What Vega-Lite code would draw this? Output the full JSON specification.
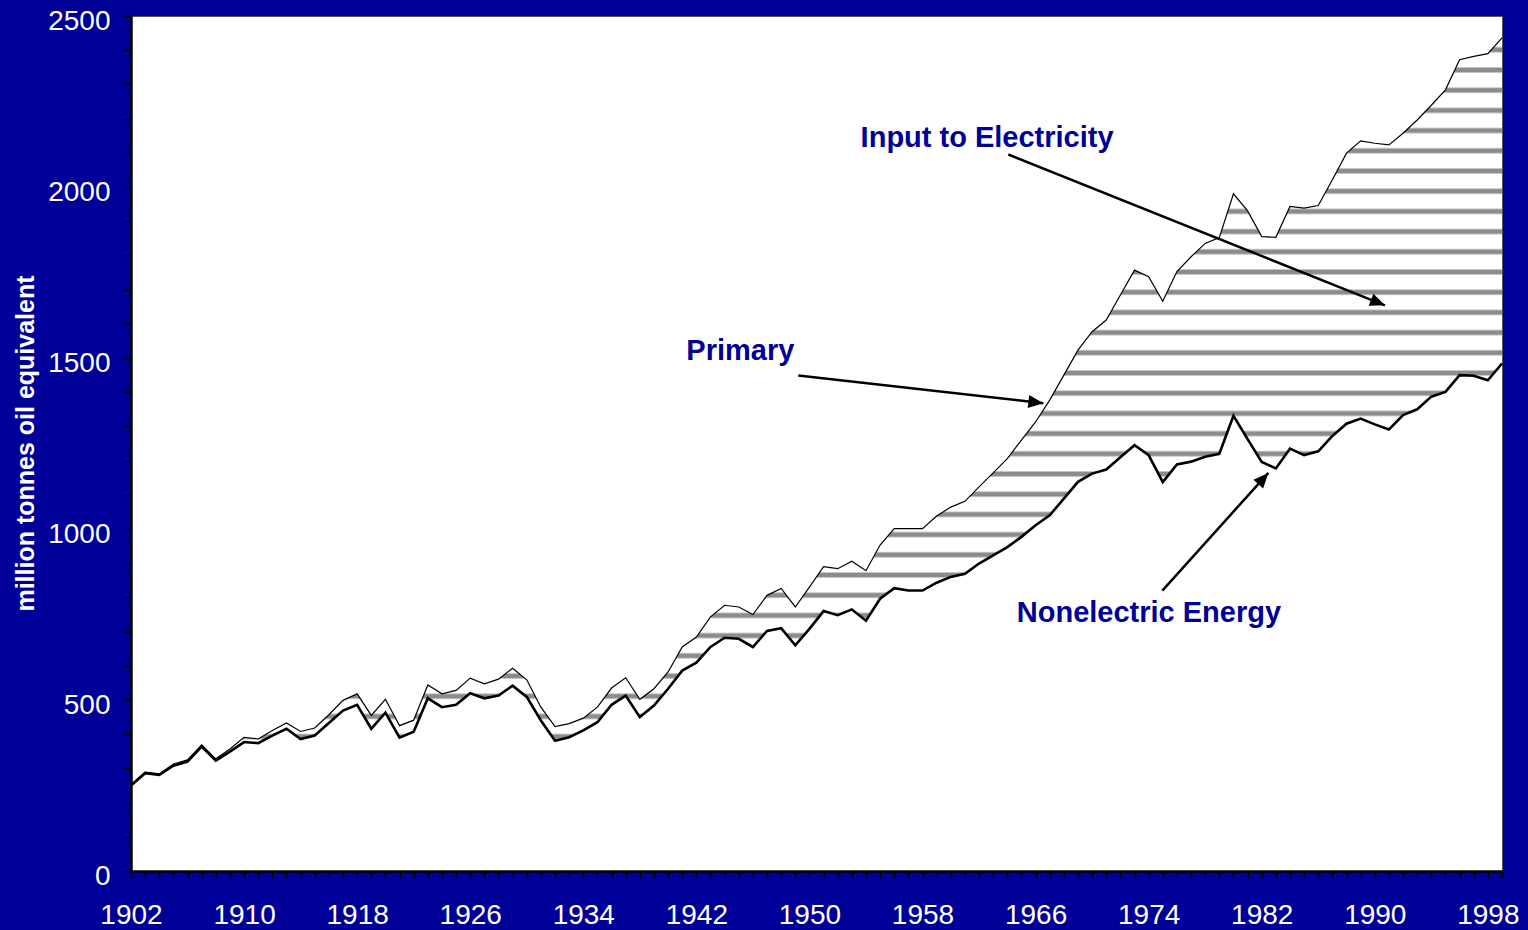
{
  "$schema": "https://vega.github.io/schema/vega-lite/v6.json",
  "width": 1371,
  "height": 855,
  "autosize": "none",
  "padding": {"left": 131, "top": 16, "right": 26, "bottom": 59},
  "background": "#000099",
  "config": {
    "view": {"fill": "white", "stroke": "#555555", "strokeWidth": 1},
    "font": "Liberation Sans"
  },
  "datasets": {
    "series": [
      {"year": 1902, "primary": 252, "nonelectric": 250},
      {"year": 1903, "primary": 289, "nonelectric": 286},
      {"year": 1904, "primary": 284, "nonelectric": 281},
      {"year": 1905, "primary": 313, "nonelectric": 308},
      {"year": 1906, "primary": 325, "nonelectric": 320},
      {"year": 1907, "primary": 369, "nonelectric": 364},
      {"year": 1908, "primary": 328, "nonelectric": 323},
      {"year": 1909, "primary": 357, "nonelectric": 349},
      {"year": 1910, "primary": 391, "nonelectric": 377},
      {"year": 1911, "primary": 386, "nonelectric": 374},
      {"year": 1912, "primary": 411, "nonelectric": 396},
      {"year": 1913, "primary": 433, "nonelectric": 416},
      {"year": 1914, "primary": 408, "nonelectric": 386},
      {"year": 1915, "primary": 418, "nonelectric": 396},
      {"year": 1916, "primary": 457, "nonelectric": 433},
      {"year": 1917, "primary": 499, "nonelectric": 469},
      {"year": 1918, "primary": 518, "nonelectric": 486},
      {"year": 1919, "primary": 455, "nonelectric": 416},
      {"year": 1920, "primary": 502, "nonelectric": 463},
      {"year": 1921, "primary": 425, "nonelectric": 390},
      {"year": 1922, "primary": 441, "nonelectric": 407},
      {"year": 1923, "primary": 544, "nonelectric": 505},
      {"year": 1924, "primary": 518, "nonelectric": 479},
      {"year": 1925, "primary": 528, "nonelectric": 486},
      {"year": 1926, "primary": 564, "nonelectric": 520},
      {"year": 1927, "primary": 547, "nonelectric": 505},
      {"year": 1928, "primary": 561, "nonelectric": 513},
      {"year": 1929, "primary": 593, "nonelectric": 542},
      {"year": 1930, "primary": 559, "nonelectric": 509},
      {"year": 1931, "primary": 479, "nonelectric": 440},
      {"year": 1932, "primary": 422, "nonelectric": 381},
      {"year": 1933, "primary": 431, "nonelectric": 391},
      {"year": 1934, "primary": 447, "nonelectric": 411},
      {"year": 1935, "primary": 479, "nonelectric": 435},
      {"year": 1936, "primary": 535, "nonelectric": 486},
      {"year": 1937, "primary": 565, "nonelectric": 513},
      {"year": 1938, "primary": 502, "nonelectric": 450},
      {"year": 1939, "primary": 533, "nonelectric": 484},
      {"year": 1940, "primary": 582, "nonelectric": 533},
      {"year": 1941, "primary": 655, "nonelectric": 586},
      {"year": 1942, "primary": 684, "nonelectric": 609},
      {"year": 1943, "primary": 743, "nonelectric": 655},
      {"year": 1944, "primary": 777, "nonelectric": 682},
      {"year": 1945, "primary": 772, "nonelectric": 679},
      {"year": 1946, "primary": 750, "nonelectric": 655},
      {"year": 1947, "primary": 806, "nonelectric": 702},
      {"year": 1948, "primary": 826, "nonelectric": 710},
      {"year": 1949, "primary": 772, "nonelectric": 660},
      {"year": 1950, "primary": 830, "nonelectric": 708},
      {"year": 1951, "primary": 890, "nonelectric": 760},
      {"year": 1952, "primary": 884, "nonelectric": 748},
      {"year": 1953, "primary": 906, "nonelectric": 765},
      {"year": 1954, "primary": 878, "nonelectric": 732},
      {"year": 1955, "primary": 953, "nonelectric": 796},
      {"year": 1956, "primary": 1001, "nonelectric": 827},
      {"year": 1957, "primary": 1001, "nonelectric": 820},
      {"year": 1958, "primary": 1001, "nonelectric": 820},
      {"year": 1959, "primary": 1038, "nonelectric": 843},
      {"year": 1960, "primary": 1064, "nonelectric": 860},
      {"year": 1961, "primary": 1081, "nonelectric": 869},
      {"year": 1962, "primary": 1123, "nonelectric": 899},
      {"year": 1963, "primary": 1164, "nonelectric": 923},
      {"year": 1964, "primary": 1206, "nonelectric": 947},
      {"year": 1965, "primary": 1260, "nonelectric": 977},
      {"year": 1966, "primary": 1313, "nonelectric": 1011},
      {"year": 1967, "primary": 1377, "nonelectric": 1040},
      {"year": 1968, "primary": 1450, "nonelectric": 1089},
      {"year": 1969, "primary": 1523, "nonelectric": 1138},
      {"year": 1970, "primary": 1577, "nonelectric": 1162},
      {"year": 1971, "primary": 1611, "nonelectric": 1174},
      {"year": 1972, "primary": 1684, "nonelectric": 1210},
      {"year": 1973, "primary": 1757, "nonelectric": 1245},
      {"year": 1974, "primary": 1738, "nonelectric": 1216},
      {"year": 1975, "primary": 1666, "nonelectric": 1137},
      {"year": 1976, "primary": 1753, "nonelectric": 1189},
      {"year": 1977, "primary": 1796, "nonelectric": 1197},
      {"year": 1978, "primary": 1835, "nonelectric": 1211},
      {"year": 1979, "primary": 1852, "nonelectric": 1220},
      {"year": 1980, "primary": 1980, "nonelectric": 1331},
      {"year": 1981, "primary": 1930, "nonelectric": 1263},
      {"year": 1982, "primary": 1855, "nonelectric": 1196},
      {"year": 1983, "primary": 1853, "nonelectric": 1177},
      {"year": 1984, "primary": 1943, "nonelectric": 1235},
      {"year": 1985, "primary": 1938, "nonelectric": 1216},
      {"year": 1986, "primary": 1946, "nonelectric": 1227},
      {"year": 1987, "primary": 2021, "nonelectric": 1272},
      {"year": 1988, "primary": 2099, "nonelectric": 1308},
      {"year": 1989, "primary": 2135, "nonelectric": 1323},
      {"year": 1990, "primary": 2128, "nonelectric": 1306},
      {"year": 1991, "primary": 2123, "nonelectric": 1291},
      {"year": 1992, "primary": 2157, "nonelectric": 1333},
      {"year": 1993, "primary": 2196, "nonelectric": 1350},
      {"year": 1994, "primary": 2239, "nonelectric": 1387},
      {"year": 1995, "primary": 2284, "nonelectric": 1401},
      {"year": 1996, "primary": 2372, "nonelectric": 1450},
      {"year": 1997, "primary": 2382, "nonelectric": 1448},
      {"year": 1998, "primary": 2390, "nonelectric": 1435},
      {"year": 1999, "primary": 2436, "nonelectric": 1484}
    ],
    "labels": [
      {"label": "Input to Electricity", "year": 1962.57, "v": 2117},
      {"label": "Primary", "year": 1945.11, "v": 1493},
      {"label": "Nonelectric Energy", "year": 1974.02, "v": 729}
    ],
    "arrows": [
      {"id": 1, "year": 1964.07, "v": 2095, "year2": 1990.72, "v2": 1654},
      {"id": 2, "year": 1949.21, "v": 1449, "year2": 1966.55, "v2": 1368},
      {"id": 3, "year": 1974.97, "v": 820, "year2": 1982.47, "v2": 1164}
    ]
  },
  "encoding": {
    "x": {
      "field": "year",
      "type": "quantitative",
      "title": null,
      "scale": {"domain": [1902, 1999], "nice": false, "zero": false},
      "axis": {
        "values": [1902,1903,1904,1905,1906,1907,1908,1909,1910,1911,1912,1913,1914,1915,1916,1917,1918,1919,1920,1921,1922,1923,1924,1925,1926,1927,1928,1929,1930,1931,1932,1933,1934,1935,1936,1937,1938,1939,1940,1941,1942,1943,1944,1945,1946,1947,1948,1949,1950,1951,1952,1953,1954,1955,1956,1957,1958,1959,1960,1961,1962,1963,1964,1965,1966,1967,1968,1969,1970,1971,1972,1973,1974,1975,1976,1977,1978,1979,1980,1981,1982,1983,1984,1985,1986,1987,1988,1989,1990,1991,1992,1993,1994,1995,1996,1997,1998,1999],
        "format": "d",
        "labelExpr": "(datum.value - 1902) % 8 == 0 ? datum.label : ''",
        "labelOverlap": false,
        "labelFlush": false,
        "labelFont": "Liberation Sans",
        "labelFontSize": 28,
        "labelColor": "white",
        "labelPadding": 23,
        "tickSize": 7,
        "tickColor": "black",
        "tickWidth": 1.5,
        "domainColor": "black",
        "domainWidth": 2.5,
        "grid": false
      }
    },
    "y": {
      "field": "primary",
      "type": "quantitative",
      "title": "million tonnes oil equivalent",
      "scale": {"domain": [0, 2500], "nice": false},
      "axis": {
        "values": [0,100,200,300,400,500,600,700,800,900,1000,1100,1200,1300,1400,1500,1600,1700,1800,1900,2000,2100,2200,2300,2400,2500],
        "format": "d",
        "labelExpr": "datum.value % 500 == 0 ? datum.label : ''",
        "labelOverlap": false,
        "labelFont": "Liberation Sans",
        "labelFontSize": 28,
        "labelColor": "white",
        "labelPadding": 14,
        "labelOffset": 5,
        "tickSize": 7,
        "tickColor": "black",
        "tickWidth": 1.5,
        "domainColor": "black",
        "domainWidth": 2.5,
        "grid": false,
        "titleFont": "Liberation Sans",
        "titleFontSize": 25,
        "titleFontWeight": "bold",
        "titleColor": "white",
        "titleAngle": 270,
        "titleAlign": "center",
        "titleBaseline": "alphabetic",
        "titleX": -98,
        "titleY": 427
      }
    }
  },
  "layer": [
    {
      "data": {"name": "series"},
      "mark": {
        "type": "area",
        "opacity": 1,
        "fill": {
          "gradient": "linear", "x1": 0, "y1": 0, "x2": 0, "y2": 1,
          "stops": [
            {"offset": 0, "color": "#ffffff"},
            {"offset": 0.0112, "color": "#ffffff"}, {"offset": 0.0139, "color": "#8c8c8c"}, {"offset": 0.0179, "color": "#8c8c8c"}, {"offset": 0.0206, "color": "#ffffff"},
            {"offset": 0.0383, "color": "#ffffff"}, {"offset": 0.0409, "color": "#8c8c8c"}, {"offset": 0.0450, "color": "#8c8c8c"}, {"offset": 0.0476, "color": "#ffffff"},
            {"offset": 0.0653, "color": "#ffffff"}, {"offset": 0.0680, "color": "#8c8c8c"}, {"offset": 0.0720, "color": "#8c8c8c"}, {"offset": 0.0746, "color": "#ffffff"},
            {"offset": 0.0923, "color": "#ffffff"}, {"offset": 0.0950, "color": "#8c8c8c"}, {"offset": 0.0990, "color": "#8c8c8c"}, {"offset": 0.1017, "color": "#ffffff"},
            {"offset": 0.1193, "color": "#ffffff"}, {"offset": 0.1220, "color": "#8c8c8c"}, {"offset": 0.1260, "color": "#8c8c8c"}, {"offset": 0.1287, "color": "#ffffff"},
            {"offset": 0.1463, "color": "#ffffff"}, {"offset": 0.1490, "color": "#8c8c8c"}, {"offset": 0.1530, "color": "#8c8c8c"}, {"offset": 0.1557, "color": "#ffffff"},
            {"offset": 0.1734, "color": "#ffffff"}, {"offset": 0.1760, "color": "#8c8c8c"}, {"offset": 0.1800, "color": "#8c8c8c"}, {"offset": 0.1827, "color": "#ffffff"},
            {"offset": 0.2004, "color": "#ffffff"}, {"offset": 0.2030, "color": "#8c8c8c"}, {"offset": 0.2071, "color": "#8c8c8c"}, {"offset": 0.2097, "color": "#ffffff"},
            {"offset": 0.2274, "color": "#ffffff"}, {"offset": 0.2301, "color": "#8c8c8c"}, {"offset": 0.2341, "color": "#8c8c8c"}, {"offset": 0.2368, "color": "#ffffff"},
            {"offset": 0.2544, "color": "#ffffff"}, {"offset": 0.2571, "color": "#8c8c8c"}, {"offset": 0.2611, "color": "#8c8c8c"}, {"offset": 0.2638, "color": "#ffffff"},
            {"offset": 0.2814, "color": "#ffffff"}, {"offset": 0.2841, "color": "#8c8c8c"}, {"offset": 0.2881, "color": "#8c8c8c"}, {"offset": 0.2908, "color": "#ffffff"},
            {"offset": 0.3085, "color": "#ffffff"}, {"offset": 0.3111, "color": "#8c8c8c"}, {"offset": 0.3151, "color": "#8c8c8c"}, {"offset": 0.3178, "color": "#ffffff"},
            {"offset": 0.3355, "color": "#ffffff"}, {"offset": 0.3382, "color": "#8c8c8c"}, {"offset": 0.3422, "color": "#8c8c8c"}, {"offset": 0.3448, "color": "#ffffff"},
            {"offset": 0.3625, "color": "#ffffff"}, {"offset": 0.3652, "color": "#8c8c8c"}, {"offset": 0.3692, "color": "#8c8c8c"}, {"offset": 0.3719, "color": "#ffffff"},
            {"offset": 0.3895, "color": "#ffffff"}, {"offset": 0.3922, "color": "#8c8c8c"}, {"offset": 0.3962, "color": "#8c8c8c"}, {"offset": 0.3989, "color": "#ffffff"},
            {"offset": 0.4165, "color": "#ffffff"}, {"offset": 0.4192, "color": "#8c8c8c"}, {"offset": 0.4232, "color": "#8c8c8c"}, {"offset": 0.4259, "color": "#ffffff"},
            {"offset": 0.4436, "color": "#ffffff"}, {"offset": 0.4462, "color": "#8c8c8c"}, {"offset": 0.4502, "color": "#8c8c8c"}, {"offset": 0.4529, "color": "#ffffff"},
            {"offset": 0.4706, "color": "#ffffff"}, {"offset": 0.4733, "color": "#8c8c8c"}, {"offset": 0.4773, "color": "#8c8c8c"}, {"offset": 0.4799, "color": "#ffffff"},
            {"offset": 0.4976, "color": "#ffffff"}, {"offset": 0.5003, "color": "#8c8c8c"}, {"offset": 0.5043, "color": "#8c8c8c"}, {"offset": 0.5070, "color": "#ffffff"},
            {"offset": 0.5246, "color": "#ffffff"}, {"offset": 0.5273, "color": "#8c8c8c"}, {"offset": 0.5313, "color": "#8c8c8c"}, {"offset": 0.5340, "color": "#ffffff"},
            {"offset": 0.5516, "color": "#ffffff"}, {"offset": 0.5543, "color": "#8c8c8c"}, {"offset": 0.5583, "color": "#8c8c8c"}, {"offset": 0.5610, "color": "#ffffff"},
            {"offset": 0.5787, "color": "#ffffff"}, {"offset": 0.5813, "color": "#8c8c8c"}, {"offset": 0.5853, "color": "#8c8c8c"}, {"offset": 0.5880, "color": "#ffffff"},
            {"offset": 0.6057, "color": "#ffffff"}, {"offset": 0.6084, "color": "#8c8c8c"}, {"offset": 0.6124, "color": "#8c8c8c"}, {"offset": 0.6150, "color": "#ffffff"},
            {"offset": 0.6327, "color": "#ffffff"}, {"offset": 0.6354, "color": "#8c8c8c"}, {"offset": 0.6394, "color": "#8c8c8c"}, {"offset": 0.6421, "color": "#ffffff"},
            {"offset": 0.6597, "color": "#ffffff"}, {"offset": 0.6624, "color": "#8c8c8c"}, {"offset": 0.6664, "color": "#8c8c8c"}, {"offset": 0.6691, "color": "#ffffff"},
            {"offset": 0.6867, "color": "#ffffff"}, {"offset": 0.6894, "color": "#8c8c8c"}, {"offset": 0.6934, "color": "#8c8c8c"}, {"offset": 0.6961, "color": "#ffffff"},
            {"offset": 0.7138, "color": "#ffffff"}, {"offset": 0.7164, "color": "#8c8c8c"}, {"offset": 0.7204, "color": "#8c8c8c"}, {"offset": 0.7231, "color": "#ffffff"},
            {"offset": 0.7408, "color": "#ffffff"}, {"offset": 0.7435, "color": "#8c8c8c"}, {"offset": 0.7475, "color": "#8c8c8c"}, {"offset": 0.7501, "color": "#ffffff"},
            {"offset": 0.7678, "color": "#ffffff"}, {"offset": 0.7705, "color": "#8c8c8c"}, {"offset": 0.7745, "color": "#8c8c8c"}, {"offset": 0.7772, "color": "#ffffff"},
            {"offset": 0.7948, "color": "#ffffff"}, {"offset": 0.7975, "color": "#8c8c8c"}, {"offset": 0.8015, "color": "#8c8c8c"}, {"offset": 0.8042, "color": "#ffffff"},
            {"offset": 0.8218, "color": "#ffffff"}, {"offset": 0.8245, "color": "#8c8c8c"}, {"offset": 0.8285, "color": "#8c8c8c"}, {"offset": 0.8312, "color": "#ffffff"},
            {"offset": 0.8489, "color": "#ffffff"}, {"offset": 0.8515, "color": "#8c8c8c"}, {"offset": 0.8555, "color": "#8c8c8c"}, {"offset": 0.8582, "color": "#ffffff"},
            {"offset": 0.8759, "color": "#ffffff"}, {"offset": 0.8786, "color": "#8c8c8c"}, {"offset": 0.8826, "color": "#8c8c8c"}, {"offset": 0.8852, "color": "#ffffff"},
            {"offset": 0.9029, "color": "#ffffff"}, {"offset": 0.9056, "color": "#8c8c8c"}, {"offset": 0.9096, "color": "#8c8c8c"}, {"offset": 0.9123, "color": "#ffffff"},
            {"offset": 0.9299, "color": "#ffffff"}, {"offset": 0.9326, "color": "#8c8c8c"}, {"offset": 0.9366, "color": "#8c8c8c"}, {"offset": 0.9393, "color": "#ffffff"},
            {"offset": 0.9569, "color": "#ffffff"}, {"offset": 0.9596, "color": "#8c8c8c"}, {"offset": 0.9636, "color": "#8c8c8c"}, {"offset": 0.9663, "color": "#ffffff"},
            {"offset": 0.9839, "color": "#ffffff"}, {"offset": 0.9866, "color": "#8c8c8c"}, {"offset": 0.9906, "color": "#8c8c8c"}, {"offset": 0.9933, "color": "#ffffff"},
            {"offset": 1, "color": "#ffffff"}
          ]
        }
      },
      "encoding": {"y2": {"field": "nonelectric"}}
    },
    {
      "data": {"name": "series"},
      "mark": {"type": "line", "color": "black", "strokeWidth": 1.2}
    },
    {
      "data": {"name": "series"},
      "mark": {"type": "line", "color": "black", "strokeWidth": 2.6},
      "encoding": {
        "y": {"field": "nonelectric", "type": "quantitative", "title": "million tonnes oil equivalent"}
      }
    },
    {
      "data": {"name": "labels"},
      "mark": {"type": "text", "font": "Liberation Sans", "fontSize": 29, "fontWeight": "bold", "color": "#000099", "align": "center", "baseline": "alphabetic"},
      "encoding": {
        "y": {"field": "v", "type": "quantitative", "title": "million tonnes oil equivalent"},
        "text": {"field": "label"}
      }
    },
    {
      "data": {"name": "arrows"},
      "mark": {"type": "rule", "color": "black", "strokeWidth": 2.5},
      "encoding": {
        "y": {"field": "v", "type": "quantitative", "title": "million tonnes oil equivalent"},
        "x2": {"field": "year2"},
        "y2": {"field": "v2"}
      }
    },
    {
      "data": {"name": "arrows"},
      "transform": [{"filter": "datum.id == 1"}],
      "mark": {"type": "point", "shape": "M0,0L-3,-1.3L-3,1.3Z", "size": 100, "filled": true, "color": "black", "opacity": 1, "angle": 21.8},
      "encoding": {
        "x": {"field": "year2", "type": "quantitative", "title": null},
        "y": {"field": "v2", "type": "quantitative", "title": "million tonnes oil equivalent"}
      }
    },
    {
      "data": {"name": "arrows"},
      "transform": [{"filter": "datum.id == 2"}],
      "mark": {"type": "point", "shape": "M0,0L-3,-1.3L-3,1.3Z", "size": 100, "filled": true, "color": "black", "opacity": 1, "angle": 6.4},
      "encoding": {
        "x": {"field": "year2", "type": "quantitative", "title": null},
        "y": {"field": "v2", "type": "quantitative", "title": "million tonnes oil equivalent"}
      }
    },
    {
      "data": {"name": "arrows"},
      "transform": [{"filter": "datum.id == 3"}],
      "mark": {"type": "point", "shape": "M0,0L-3,-1.3L-3,1.3Z", "size": 100, "filled": true, "color": "black", "opacity": 1, "angle": 312.1},
      "encoding": {
        "x": {"field": "year2", "type": "quantitative", "title": null},
        "y": {"field": "v2", "type": "quantitative", "title": "million tonnes oil equivalent"}
      }
    }
  ]
}
